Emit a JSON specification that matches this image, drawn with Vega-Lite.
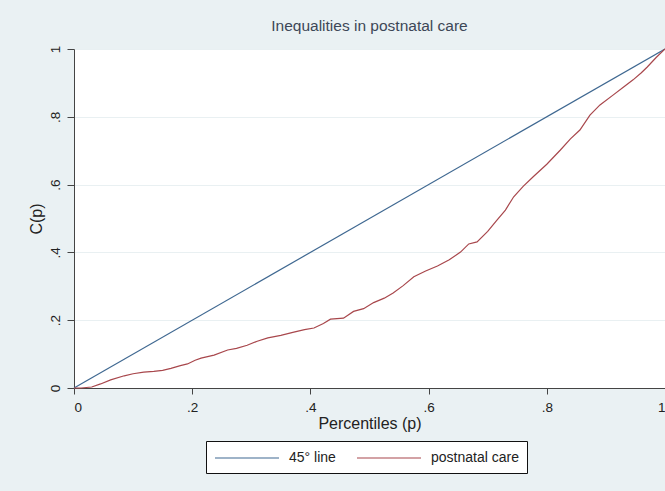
{
  "$schema": "https://vega.github.io/schema/vega-lite/v6.json",
  "width": 591,
  "height": 339,
  "autosize": "none",
  "padding": {"left": 74, "top": 49, "right": 0, "bottom": 103},
  "background": "#eaf1f3",
  "title": {
    "text": "Inequalities in postnatal care",
    "font": "Liberation Sans",
    "fontSize": 15.5,
    "fontWeight": "normal",
    "color": "#3d4757",
    "anchor": "middle",
    "offset": 11
  },
  "data": {
    "values": [
      {"p": 0, "c": 0, "series": "45° line"},
      {"p": 1, "c": 1, "series": "45° line"},
      {"p": 0, "c": 0, "series": "postnatal care"},
      {"p": 0.012, "c": 0, "series": "postnatal care"},
      {"p": 0.03, "c": 0.003, "series": "postnatal care"},
      {"p": 0.045, "c": 0.012, "series": "postnatal care"},
      {"p": 0.062, "c": 0.024, "series": "postnatal care"},
      {"p": 0.085, "c": 0.036, "series": "postnatal care"},
      {"p": 0.1, "c": 0.042, "series": "postnatal care"},
      {"p": 0.118, "c": 0.047, "series": "postnatal care"},
      {"p": 0.135, "c": 0.049, "series": "postnatal care"},
      {"p": 0.15, "c": 0.052, "series": "postnatal care"},
      {"p": 0.164, "c": 0.058, "series": "postnatal care"},
      {"p": 0.18, "c": 0.066, "series": "postnatal care"},
      {"p": 0.192, "c": 0.071, "series": "postnatal care"},
      {"p": 0.205, "c": 0.082, "series": "postnatal care"},
      {"p": 0.215, "c": 0.088, "series": "postnatal care"},
      {"p": 0.237, "c": 0.097, "series": "postnatal care"},
      {"p": 0.26, "c": 0.112, "series": "postnatal care"},
      {"p": 0.275, "c": 0.117, "series": "postnatal care"},
      {"p": 0.293, "c": 0.126, "series": "postnatal care"},
      {"p": 0.31, "c": 0.138, "series": "postnatal care"},
      {"p": 0.328, "c": 0.148, "series": "postnatal care"},
      {"p": 0.35, "c": 0.155, "series": "postnatal care"},
      {"p": 0.372, "c": 0.165, "series": "postnatal care"},
      {"p": 0.39, "c": 0.172, "series": "postnatal care"},
      {"p": 0.406, "c": 0.177, "series": "postnatal care"},
      {"p": 0.422, "c": 0.19, "series": "postnatal care"},
      {"p": 0.434, "c": 0.203, "series": "postnatal care"},
      {"p": 0.456, "c": 0.206, "series": "postnatal care"},
      {"p": 0.473, "c": 0.226, "series": "postnatal care"},
      {"p": 0.49, "c": 0.234, "series": "postnatal care"},
      {"p": 0.507, "c": 0.252, "series": "postnatal care"},
      {"p": 0.525, "c": 0.265, "series": "postnatal care"},
      {"p": 0.54, "c": 0.28, "series": "postnatal care"},
      {"p": 0.557, "c": 0.302, "series": "postnatal care"},
      {"p": 0.575, "c": 0.328, "series": "postnatal care"},
      {"p": 0.595, "c": 0.345, "series": "postnatal care"},
      {"p": 0.615, "c": 0.36, "series": "postnatal care"},
      {"p": 0.635, "c": 0.378, "series": "postnatal care"},
      {"p": 0.654, "c": 0.401, "series": "postnatal care"},
      {"p": 0.668, "c": 0.425, "series": "postnatal care"},
      {"p": 0.682, "c": 0.431, "series": "postnatal care"},
      {"p": 0.7, "c": 0.462, "series": "postnatal care"},
      {"p": 0.716, "c": 0.496, "series": "postnatal care"},
      {"p": 0.73, "c": 0.525, "series": "postnatal care"},
      {"p": 0.744, "c": 0.564, "series": "postnatal care"},
      {"p": 0.76, "c": 0.595, "series": "postnatal care"},
      {"p": 0.777, "c": 0.623, "series": "postnatal care"},
      {"p": 0.8, "c": 0.66, "series": "postnatal care"},
      {"p": 0.823, "c": 0.702, "series": "postnatal care"},
      {"p": 0.84, "c": 0.735, "series": "postnatal care"},
      {"p": 0.856, "c": 0.761, "series": "postnatal care"},
      {"p": 0.873, "c": 0.805, "series": "postnatal care"},
      {"p": 0.89, "c": 0.835, "series": "postnatal care"},
      {"p": 0.912, "c": 0.864, "series": "postnatal care"},
      {"p": 0.93, "c": 0.888, "series": "postnatal care"},
      {"p": 0.946, "c": 0.909, "series": "postnatal care"},
      {"p": 0.96, "c": 0.93, "series": "postnatal care"},
      {"p": 0.97, "c": 0.947, "series": "postnatal care"},
      {"p": 0.985, "c": 0.975, "series": "postnatal care"},
      {"p": 1, "c": 1, "series": "postnatal care"}
    ]
  },
  "mark": {"type": "line", "strokeWidth": 1.2, "interpolate": "linear"},
  "encoding": {
    "x": {
      "field": "p",
      "type": "quantitative",
      "scale": {"domain": [0, 1], "nice": false, "zero": false},
      "axis": {
        "title": "Percentiles (p)",
        "values": [0, 0.2, 0.4, 0.6, 0.8, 1],
        "labelExpr": "replace(format(datum.value, '.1~f'), '0.', '.')",
        "grid": false,
        "tickSize": 6,
        "labelPadding": 6,
        "titlePadding": 2
      }
    },
    "y": {
      "field": "c",
      "type": "quantitative",
      "scale": {"domain": [0, 1], "nice": false, "zero": false},
      "axis": {
        "title": "C(p)",
        "values": [0, 0.2, 0.4, 0.6, 0.8, 1],
        "labelExpr": "replace(format(datum.value, '.1~f'), '0.', '.')",
        "labelAngle": -90,
        "labelAlign": "center",
        "labelBaseline": "bottom",
        "grid": true,
        "gridColor": "#e9f0f2",
        "gridWidth": 1,
        "tickSize": 7,
        "labelPadding": 5,
        "titlePadding": 4
      }
    },
    "color": {
      "field": "series",
      "type": "nominal",
      "scale": {"domain": ["45° line", "postnatal care"], "range": ["#3f6891", "#a8474c"]},
      "legend": {
        "title": null,
        "orient": "none",
        "direction": "horizontal",
        "legendX": 132,
        "legendY": 392,
        "symbolType": "M-1,0H7",
        "symbolSize": 256,
        "symbolStrokeWidth": 1.2,
        "labelFontSize": 14,
        "labelOffset": 57,
        "columnPadding": 18,
        "padding": 8,
        "strokeColor": "#111111",
        "fillColor": "#ffffff"
      }
    }
  },
  "config": {
    "font": "Liberation Sans",
    "view": {"fill": "#ffffff", "stroke": null},
    "axis": {
      "labelFont": "Liberation Sans",
      "labelFontSize": 13.5,
      "labelColor": "#222222",
      "titleFont": "Liberation Sans",
      "titleFontSize": 16,
      "titleFontWeight": "normal",
      "titleColor": "#222222",
      "domainColor": "#444444",
      "tickColor": "#444444"
    },
    "legend": {
      "labelFont": "Liberation Sans",
      "labelColor": "#222222"
    }
  }
}
